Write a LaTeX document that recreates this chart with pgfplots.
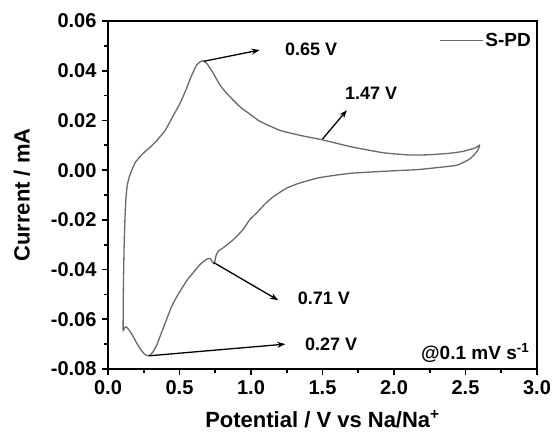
\documentclass[border=0pt]{standalone}
\usepackage{pgfplots}
\pgfplotsset{compat=1.18}
\usepackage{fontspec}
\setmainfont{Liberation Sans}
\usetikzlibrary{arrows.meta}
\definecolor{curve}{RGB}{105,105,105}
\begin{document}
\begin{tikzpicture}
\useasboundingbox (0,0) rectangle (555pt,439pt);
\begin{axis}[
  at={(108pt,70pt)}, anchor=south west,
  scale only axis, width=429pt, height=348pt,
  xmin=0, xmax=3, ymin=-0.08, ymax=0.06,
  scaled x ticks=false, scaled y ticks=false,
  xtick={0,0.5,1,1.5,2,2.5,3},
  xticklabels={0.0,0.5,1.0,1.5,2.0,2.5,3.0},
  ytick={-0.08,-0.06,-0.04,-0.02,0,0.02,0.04,0.06},
  yticklabels={-0.08,-0.06,-0.04,-0.02,0.00,0.02,0.04,0.06},
  minor x tick num=1, minor y tick num=1,
  tick align=outside, xtick pos=bottom, ytick pos=left,
  major tick length=6pt, minor tick length=4pt,
  every tick/.style={black, line width=1.6pt},
  axis line style={line width=1.8pt},
  tick label style={font=\bfseries\fontsize{20}{20}\selectfont},
  xticklabel style={yshift=-2pt},
  yticklabel style={xshift=-2pt},
  xlabel={Potential / V vs Na/Na\textsuperscript{+}},
  ylabel={Current / mA},
  label style={font=\bfseries\fontsize{22}{22}\selectfont},
  xlabel style={yshift=-9pt},
  ylabel style={yshift=14pt},
  legend style={draw=none, fill=none, at={(1,1)}, anchor=north east,
    font=\bfseries\fontsize{19}{19}\selectfont, inner sep=2pt, xshift=-2pt, yshift=-8pt},
  legend image code/.code={\draw[#1] (0pt,0pt) -- (43pt,0pt);},
]
\addplot[curve, line width=1.3pt, smooth, tension=0.3] coordinates {
(2.60,0.0100) (2.58,0.0075) (2.53,0.0045) (2.44,0.0020) (2.30,0.0010)
(2.16,0.0002) (1.95,-0.0004) (1.69,-0.0013) (1.48,-0.0030) (1.34,-0.0052)
(1.25,-0.0072) (1.156,-0.0107) (1.10,-0.0135) (1.04,-0.0172) (0.99,-0.0200)
(0.946,-0.0238) (0.876,-0.0280) (0.806,-0.0312) (0.771,-0.0326) (0.755,-0.0345)
(0.748,-0.0365) (0.738,-0.0375) (0.725,-0.0365) (0.713,-0.0355) (0.69,-0.0358)
(0.643,-0.0380) (0.60,-0.0410) (0.55,-0.0445) (0.48,-0.0510) (0.44,-0.0555)
(0.41,-0.0600) (0.37,-0.0660) (0.34,-0.0705) (0.31,-0.0735) (0.282,-0.0747)
(0.255,-0.0740) (0.224,-0.0718) (0.20,-0.0695) (0.177,-0.0670) (0.15,-0.0645)
(0.126,-0.0630) (0.115,-0.0635) (0.106,-0.0645)
(0.106,-0.0600) (0.108,-0.0455) (0.113,-0.0300) (0.119,-0.0188) (0.126,-0.0110)
(0.135,-0.0060) (0.150,-0.0025) (0.170,0.0005) (0.190,0.0030) (0.224,0.0055)
(0.260,0.0075) (0.30,0.0095) (0.34,0.0118) (0.40,0.0160) (0.457,0.0220)
(0.503,0.0268) (0.55,0.0330) (0.573,0.0365) (0.60,0.0400) (0.62,0.0423)
(0.645,0.0436) (0.665,0.0440) (0.69,0.0430) (0.736,0.0390) (0.78,0.0345)
(0.83,0.0309) (0.923,0.0255) (1.00,0.0222) (1.063,0.0196) (1.203,0.0160)
(1.343,0.0140) (1.506,0.0121) (1.70,0.0094) (1.925,0.0070) (2.11,0.0061)
(2.25,0.0062) (2.39,0.0068) (2.48,0.0075) (2.53,0.0083) (2.57,0.0090)
(2.60,0.0102)
};
\addlegendentry{S-PD}
\begin{scope}[black, line width=1.3pt, -{Stealth[length=8pt,width=6pt]}]
\draw (axis cs:0.67,0.0438) -- (axis cs:1.06,0.0483);
\draw (axis cs:1.50,0.0125) -- (axis cs:1.67,0.0241);
\draw (axis cs:0.74,-0.0372) -- (axis cs:1.19,-0.0523);
\draw (axis cs:0.285,-0.0747) -- (axis cs:1.24,-0.0700);
\end{scope}
\begin{scope}[font=\bfseries\fontsize{18}{18}\selectfont]
\node at (axis cs:1.42,0.0487) {0.65 V};
\node at (axis cs:1.84,0.0309) {1.47 V};
\node at (axis cs:1.51,-0.0515) {0.71 V};
\node at (axis cs:1.56,-0.0700) {0.27 V};
\node[anchor=east, font=\bfseries\fontsize{19}{19}\selectfont] at (axis cs:2.97,-0.0735) {@0.1 mV s\textsuperscript{-1}};
\end{scope}
\end{axis}
\end{tikzpicture}
\end{document}
